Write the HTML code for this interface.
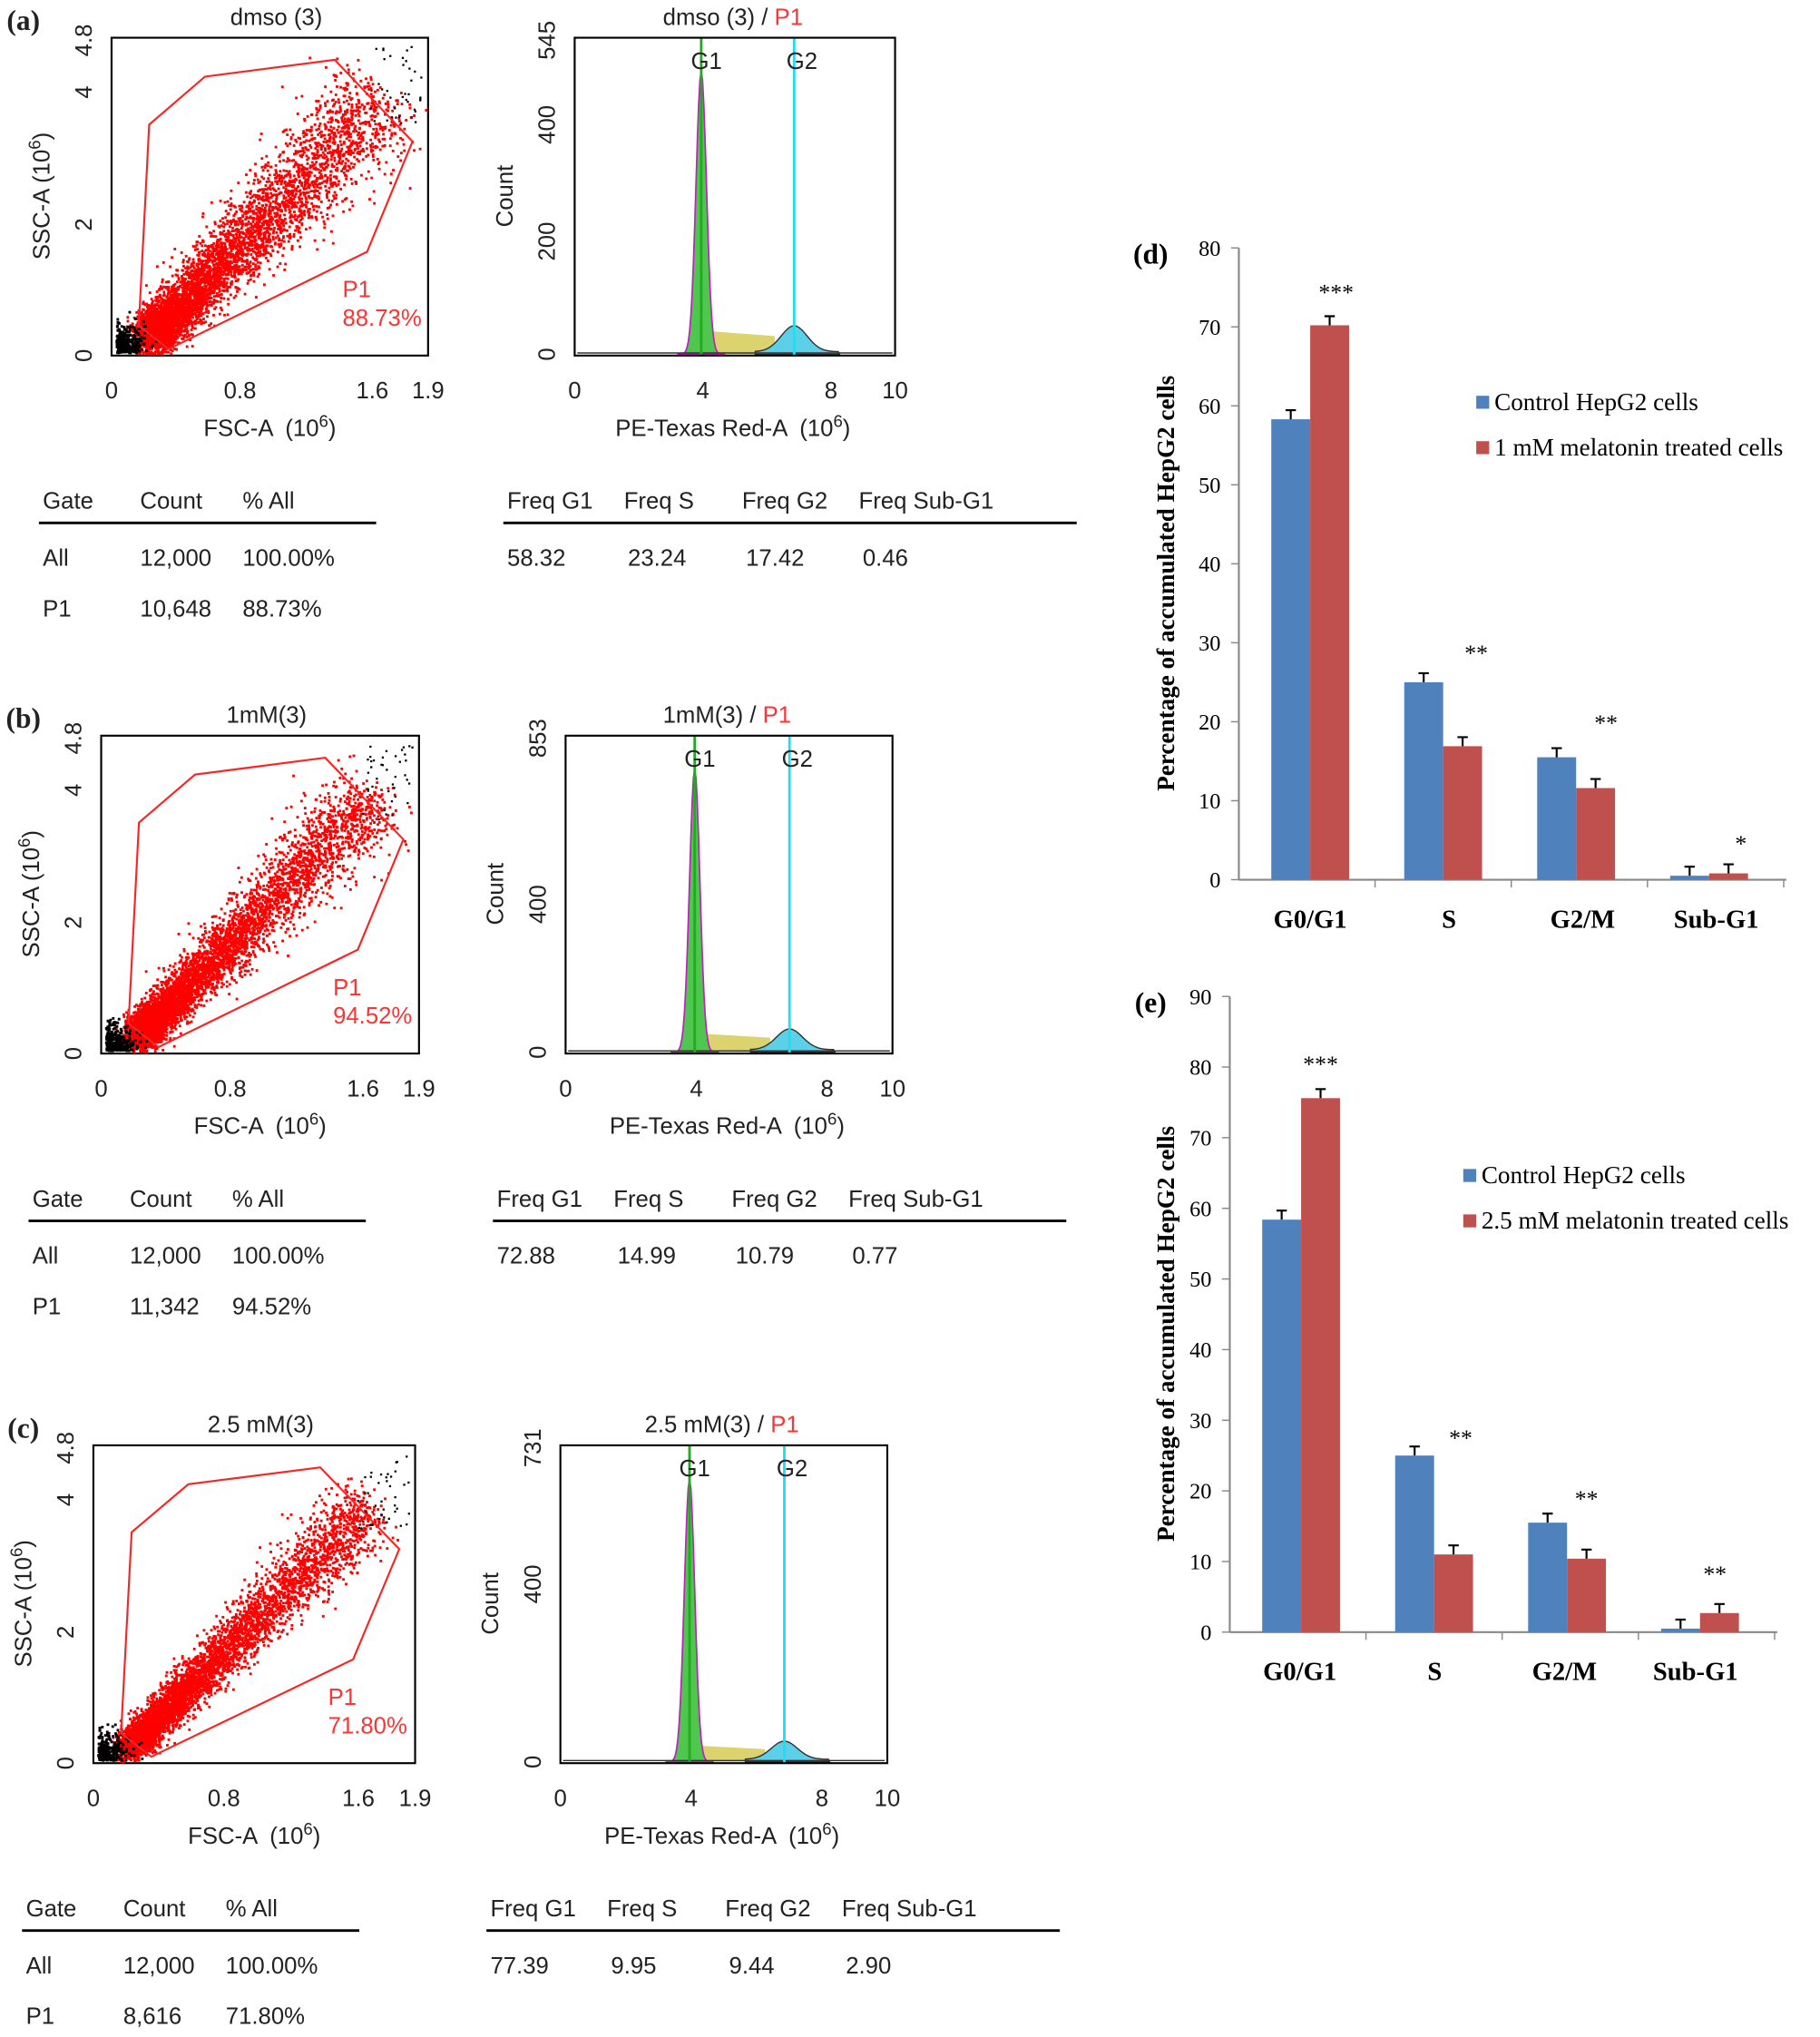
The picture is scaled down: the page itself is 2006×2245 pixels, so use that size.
<!DOCTYPE html>
<html><head><meta charset="utf-8"><style>
html,body{margin:0;padding:0;background:#fff}
svg{display:block}
.s{font-family:"Liberation Sans",sans-serif;font-size:18px;fill:#222}
.r{font-family:"Liberation Serif",serif}
</style></head><body>
<svg id="v" width="2006" height="2245" viewBox="0 0 1403 1568" xmlns="http://www.w3.org/2000/svg">
<g id="g"></g>
</svg>
<script>
var out=[];
function A(s){out.push(s);}
var seed=7;function rnd(){seed=(seed*16807)%2147483647;return seed/2147483647;}
function gau(){return Math.sqrt(-2*Math.log(rnd()+1e-9))*Math.cos(2*Math.PI*rnd());}
function T(x,y,t,o){o=o||{};A('<text x="'+x+'" y="'+y+'" class="'+(o.c||'s')+'" text-anchor="'+(o.a||'middle')+'"'+(o.st?' style="'+o.st+'"':'')+(o.tr?' transform="'+o.tr+'"':'')+'>'+t+'</text>');}
function panel(lab,dx,dy,title,sx0,sx1,hx0,hx1,gatePct,cnt,freqs,spread){
 var y0=28+dy,y1=273+dy;
 T(18,22+dy,lab,{c:'s r',st:'font-weight:bold;font-size:22px;font-family:Liberation Serif,serif'});
 T((sx0+sx1)/2+5,18+dy,title);
 A('<rect x="'+sx0+'" y="'+y0+'" width="'+(sx1-sx0)+'" height="'+(y1-y0)+'" fill="none" stroke="#000" stroke-width="1.5"/>');
 var w=sx1-sx0;
 var pts='';
 for(var i=0;i<5500;i++){var t=Math.pow(rnd(),2.5);var n1=gau()*13*(0.6+t)*spread,n2=gau()*6;var px=sx0+32+t*w*0.72+n1*0.7+n2;var py=y1-18-t*180+n1*0.7-n2;
  if(px<sx0+2||py>y1-2||px>sx1-2||py<y0+2)continue;pts+='<rect x="'+px.toFixed(1)+'" y="'+py.toFixed(1)+'" width="2" height="2"/>';}
 A('<g fill="#f00">'+pts+'</g>');
 pts='';
 for(i=0;i<300;i++){var px=sx0+3+Math.abs(gau())*10,py=y1-3-Math.abs(gau())*10;pts+='<rect x="'+px.toFixed(1)+'" y="'+py.toFixed(1)+'" width="2" height="2"/>';}
 for(i=0;i<40;i++){var px=sx1-45+rnd()*40,py=y0+5+rnd()*60;pts+='<rect x="'+px.toFixed(1)+'" y="'+py.toFixed(1)+'" width="1.6" height="1.6"/>';}
 A('<g fill="#000">'+pts+'</g>');
 var f=w/244;
 var g=[[29,67],[72,30],[172,17],[232,80],[197,165],[44,240],[21,222]].map(function(p){return (sx0+p[0]*f)+','+(y0+p[1])}).join(' ');
 A('<polygon points="'+g+'" fill="none" stroke="#f22" stroke-width="1.5"/>');
 T(sx0+178*f,y0+200,'P1',{a:'start',st:'fill:#f33'});
 T(sx0+178*f,y0+222,gatePct,{a:'start',st:'fill:#f33'});
 [['4.8',2],['4',42],['2',144],['0',245]].forEach(function(k){T(sx0-20,y0+k[1],k[0],{tr:'rotate(-90 '+(sx0-20)+' '+(y0+k[1])+')',st:'dominant-baseline:middle'});});
 T(sx0-48,y0+122,'SSC-A (10<tspan dy="-7" font-size="13">6</tspan><tspan dy="7">)</tspan>',{tr:'rotate(-90 '+(sx0-48)+' '+(y0+122)+')'});
 [['0',0],['0.8',99],['1.6',201],['1.9',244]].forEach(function(k){T(sx0+k[1]*f,y1+33,k[0]);});
 T(sx0+122*f,y1+62,'FSC-A &#160;(10<tspan dy="-7" font-size="13">6</tspan><tspan dy="7">)</tspan>');
 var hw=hx1-hx0,hf=hw/247;
 T(hx0+122*hf,18+dy,title.replace(/\s*$/,'')+' / <tspan style="fill:#f33">P1</tspan>');
 var base=y1-1;
 function X(v){return hx0+v/10*hw;}
 var g1=X(3.95),g2=X(6.85);
 A('<polygon points="'+(g1+4)+','+base+' '+(g1+4)+','+(base-spread*18)+' '+(g2-15)+','+(base-spread*14)+' '+(g2-15)+','+base+'" fill="#d4c84a" opacity="0.8"/>');
 var p='M'+(g2-30)+','+base;for(var k=-30;k<=35;k+=2){p+=' L'+(g2+k)+','+(base-spread*20*Math.exp(-k*k/200)-2);}p+=' L'+(g2+35)+','+base+'Z';
 A('<path d="'+p+'" fill="#5bd0e8" stroke="#333" stroke-width="1"/>');
 p='M'+(g1-18)+','+base;for(var k=-18;k<=18;k+=1){p+=' L'+(g1+k)+','+(base-218*Math.exp(-k*k/(2*16)));}p+=' L'+(g1+18)+','+base+'Z';
 A('<path d="'+p+'" fill="#4fc74f" stroke="#c020c0" stroke-width="1.2"/>');
 A('<line x1="'+(hx0+2)+'" y1="'+(base-1)+'" x2="'+(hx1-2)+'" y2="'+(base-1)+'" stroke="#333" stroke-width="1"/>');
 A('<line x1="'+g1+'" y1="'+y0+'" x2="'+g1+'" y2="'+y1+'" stroke="#2a2" stroke-width="2"/>');
 A('<line x1="'+g2+'" y1="'+y0+'" x2="'+g2+'" y2="'+y1+'" stroke="#2de" stroke-width="2"/>');
 T(g1+4,y0+24,'G1');T(g2+6,y0+24,'G2');
 A('<rect x="'+hx0+'" y="'+y0+'" width="'+hw+'" height="'+(y1-y0)+'" fill="none" stroke="#000" stroke-width="1.5"/>');
 var ymx=freqs[4];
 [[ymx,2],[freqs[5],freqs[6]],[freqs[7],freqs[8]],['0',244]].forEach(function(k){if(k[0]===null)return;T(hx0-20,y0+k[1],k[0],{tr:'rotate(-90 '+(hx0-20)+' '+(y0+k[1])+')',st:'dominant-baseline:middle'});});
 T(hx0-48,y0+122,'Count',{tr:'rotate(-90 '+(hx0-48)+' '+(y0+122)+')'});
 [['0',0],['4',4],['8',8],['10',10]].forEach(function(k){T(X(k[1]),y1+33,k[0]);});
 T(hx0+122*hf,y1+62,'PE-Texas Red-A &#160;(10<tspan dy="-7" font-size="13">6</tspan><tspan dy="7">)</tspan>');
 var tx=30+dx,ty=391+dy;
 T(tx+3,ty,'Gate',{a:'start'});T(tx+78,ty,'Count',{a:'start'});T(tx+157,ty,'% All',{a:'start'});
 A('<line x1="'+tx+'" y1="'+(ty+11)+'" x2="'+(tx+260)+'" y2="'+(ty+11)+'" stroke="#000" stroke-width="2"/>');
 T(tx+3,ty+44,'All',{a:'start'});T(tx+78,ty+44,'12,000',{a:'start'});T(tx+157,ty+44,'100.00%',{a:'start'});
 T(tx+3,ty+83,'P1',{a:'start'});T(tx+78,ty+83,cnt,{a:'start'});T(tx+157,ty+83,gatePct,{a:'start'});
 var rx=388+dx;
 T(rx+3,ty,'Freq G1',{a:'start'});T(rx+93,ty,'Freq S',{a:'start'});T(rx+184,ty,'Freq G2',{a:'start'});T(rx+274,ty,'Freq Sub-G1',{a:'start'});
 A('<line x1="'+rx+'" y1="'+(ty+11)+'" x2="'+(rx+442)+'" y2="'+(ty+11)+'" stroke="#000" stroke-width="2"/>');
 [0,93,184,274].forEach(function(o,i){T(rx+3+o,ty+44,freqs[i],{a:'start'});});
}
panel('(a)',0,0,'dmso (3)',86,330,443,690,'88.73%','10,648',['58.32','23.24','17.42','0.46','545','400',67,'200',157],1);
panel('(b)',-8,538,'1mM(3)',78,323,436,688,'94.52%','11,342',['72.88','14.99','10.79','0.77','853','400',130,null,0],0.8);
panel('(c)',-13,1085,'2.5 mM(3)',72,320,432,684,'71.80%','8,616',['77.39','9.95','9.44','2.90','731','400',107,null,0],0.7);

function bars(lab,ax,ytop,ybot,ymax,step,data,cats,stars,starY,legY,legTxt,labY,catX){
 var sc=(ybot-ytop)/ymax;
 T(887,ytop+12,lab,{c:'r',st:'font-weight:bold;font-size:22px;font-family:Liberation Serif,serif'});
 A('<line x1="'+ax+'" y1="'+ytop+'" x2="'+ax+'" y2="'+ybot+'" stroke="#888" stroke-width="1.5"/>');
 A('<line x1="'+ax+'" y1="'+ybot+'" x2="'+(ax+422)+'" y2="'+ybot+'" stroke="#888" stroke-width="1.5"/>');
 for(var v=0;v<=ymax;v+=step){var y=ybot-v*sc;A('<line x1="'+(ax-6)+'" y1="'+y+'" x2="'+ax+'" y2="'+y+'" stroke="#888"/>');T(ax-14,y+6,v,{a:'end',c:'r',st:'font-size:17px;font-family:Liberation Serif,serif'});}
 for(var i=1;i<=4;i++){var x=ax+i*105;A('<line x1="'+x+'" y1="'+ybot+'" x2="'+x+'" y2="'+(ybot+6)+'" stroke="#888"/>');}
 data.forEach(function(d,i){var bx=ax+25+i*102.5;
  [[d[0],'#4f81bd',bx],[d[1],'#c0504d',bx+30]].forEach(function(b){var h=b[0]*sc;A('<rect x="'+b[2]+'" y="'+(ybot-h)+'" width="30" height="'+h+'" fill="'+b[1]+'"/>');
   var ey=ybot-h-7;A('<path d="M'+(b[2]+15)+' '+(ybot-h)+'V'+ey+'M'+(b[2]+11)+' '+ey+'H'+(b[2]+19)+'" stroke="#000" stroke-width="1.5"/>');});
  T(starY[i][0],starY[i][1]+8,stars[i],{c:'r',st:'font-size:18px;font-family:Liberation Serif,serif'});
  T(catX[i],labY,cats[i],{c:'r',st:'font-weight:bold;font-size:20px;font-family:Liberation Serif,serif'});
 });
 T(905,(ytop+ybot)/2+15,'Percentage of accumulated HepG2 cells',{c:'r',tr:'rotate(-90 905 '+((ytop+ybot)/2+15)+')',st:'font-weight:bold;font-size:19px;font-family:Liberation Serif,serif'});
 var lx=legY[0];
 A('<rect x="'+lx+'" y="'+(legY[1]-10)+'" width="10" height="10" fill="#4f81bd"/>');
 T(lx+14,legY[1]+1,'Control HepG2 cells',{a:'start',c:'r',st:'font-size:19px;font-family:Liberation Serif,serif'});
 A('<rect x="'+lx+'" y="'+(legY[1]+25)+'" width="10" height="10" fill="#c0504d"/>');
 T(lx+14,legY[1]+36,legTxt,{a:'start',c:'r',st:'font-size:19px;font-family:Liberation Serif,serif'});
}
bars('(d)',955,190,677,80,10,[[58.3,70.2],[25,16.9],[15.5,11.6],[0.5,0.8]],['G0/G1','S','G2/M','Sub-G1'],['***','**','**','*'],[[1030,222],[1138,500],[1238,554],[1342,647]],[1138,314],'1 mM melatonin treated cells',714,[1010,1117,1220,1323]);
bars('(e)',948,767,1257,90,10,[[58.4,75.6],[25,11],[15.5,10.4],[0.5,2.7]],['G0/G1','S','G2/M','Sub-G1'],['***','**','**','**'],[[1018,817],[1126,1105],[1223,1152],[1322,1210]],[1128,910],'2.5 mM melatonin treated cells',1294,[1002,1106,1206,1307]);
document.getElementById('g').innerHTML=out.join('');
</script>
</body></html>
